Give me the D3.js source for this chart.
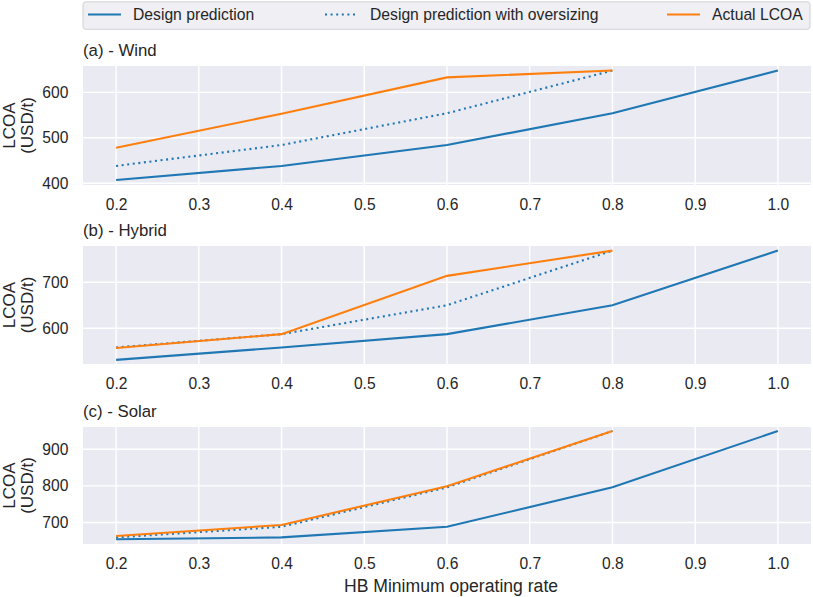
<!DOCTYPE html>
<html><head><meta charset="utf-8">
<script src="https://cdn.jsdelivr.net/npm/d3@7"></script>
<style>
html,body{margin:0;padding:0;background:#fff;}
svg{display:block;font-family:"Liberation Sans",Arial,Helvetica,sans-serif;}
</style></head>
<body><svg id="chart" width="813" height="597"></svg>
<script>
const xValues = [0.2, 0.4, 0.6, 0.8, 1.0];
const xOversize = [0.2, 0.4, 0.6, 0.8];
const xTicks = [0.2, 0.3, 0.4, 0.5, 0.6, 0.7, 0.8, 0.9, 1.0];

const panelTitles = ["(a) - Wind", "(b) - Hybrid", "(c) - Solar"];
const windDesign = [407, 438, 484, 554, 648];
const windOversize = [438, 484, 554, 648];
const windActual = [478, 553, 633, 648];
const hybridDesign = [531, 558, 587, 650, 769];
const hybridOversize = [558, 587, 650, 769];
const hybridActual = [557, 587, 714, 769];
const solarDesign = [654, 659, 688, 796, 950];
const solarOversize = [659, 688, 796, 950];
const solarActual = [663, 693, 799, 950];
const yTicksWind = [400, 500, 600];
const yTicksHybrid = [600, 700];
const yTicksSolar = [700, 800, 900];
const legendLabels = ["Design prediction", "Design prediction with oversizing", "Actual LCOA"];

const BLUE = "#1f77b4", ORANGE = "#ff7f0e", TXT = "#262626";
const DOT = "2,3.6";
const svg = d3.select("#chart");
const left = 83, right = 811;
const x = d3.scaleLinear().domain([0.16, 1.04]).range([left, right]);

const panels = [
  {title: panelTitles[0], design: windDesign, over: windOversize, actual: windActual, ticks: yTicksWind, dom: [396, 658], top: 66, bottom: 185},
  {title: panelTitles[1], design: hybridDesign, over: hybridOversize, actual: hybridActual, ticks: yTicksHybrid, dom: [522, 779], top: 246, bottom: 364},
  {title: panelTitles[2], design: solarDesign, over: solarOversize, actual: solarActual, ticks: yTicksSolar, dom: [641, 961], top: 427, bottom: 544}
];

panels.forEach((p, i) => {
  const y = d3.scaleLinear().domain(p.dom).range([p.bottom, p.top]);
  const g = svg.append("g");
  g.append("rect").attr("x", left).attr("y", p.top).attr("width", right - left).attr("height", p.bottom - p.top).attr("fill", "#eaeaf2");
  g.selectAll(".vg").data(xTicks).enter().append("line")
    .attr("x1", d => x(d)).attr("x2", d => x(d)).attr("y1", p.top).attr("y2", p.bottom)
    .attr("stroke", "#fff").attr("stroke-width", 1.4);
  g.selectAll(".hg").data(p.ticks).enter().append("line")
    .attr("x1", left).attr("x2", right).attr("y1", d => y(d)).attr("y2", d => y(d))
    .attr("stroke", "#fff").attr("stroke-width", 1.4);
  const xa = g.append("g").attr("transform", `translate(0,${p.bottom})`)
    .call(d3.axisBottom(x).tickValues(xTicks).tickFormat(d3.format(".1f")).tickSize(0).tickPadding(14.3));
  xa.select(".domain").remove();
  xa.selectAll("text").attr("fill", TXT).attr("font-size", 15.6).attr("font-family", "Liberation Sans, Arial, sans-serif");
  const ya = g.append("g").attr("transform", `translate(${left},0)`)
    .call(d3.axisLeft(y).tickValues(p.ticks).tickFormat(d3.format("d")).tickSize(0).tickPadding(14.7));
  ya.select(".domain").remove();
  ya.selectAll("text").attr("fill", TXT).attr("font-size", 15.6).attr("font-family", "Liberation Sans, Arial, sans-serif");
  g.append("text").attr("x", left).attr("y", p.top - 10).attr("fill", TXT).attr("font-size", 16.8).text(p.title);
  const cy = (p.top + p.bottom) / 2;
  const yl = g.append("text").attr("transform", `translate(15,${cy}) rotate(-90)`).attr("text-anchor", "middle")
    .attr("fill", TXT).attr("font-size", 17);
  yl.append("tspan").attr("x", 0).attr("dy", 0).text("LCOA");
  yl.append("tspan").attr("x", 0).attr("dy", 17.5).text("(USD/t)");
  const line = (xs) => d3.line().x((d, j) => x(xs[j])).y(d => y(d));
  g.append("path").datum(p.design).attr("d", line(xValues)).attr("fill", "none").attr("stroke", BLUE).attr("stroke-width", 2.1);
  g.append("path").datum(p.over).attr("d", line(xOversize)).attr("fill", "none").attr("stroke", BLUE).attr("stroke-width", 2.1).attr("stroke-dasharray", DOT);
  g.append("path").datum(p.actual).attr("d", line(xOversize)).attr("fill", "none").attr("stroke", ORANGE).attr("stroke-width", 2.1);
});

svg.append("text").attr("x", 451).attr("y", 592).attr("text-anchor", "middle")
  .attr("fill", TXT).attr("font-size", 17.6).text("HB Minimum operating rate");

const lg = svg.append("g");
lg.append("rect").attr("x", 83).attr("y", 1.8).attr("width", 727).attr("height", 27.5).attr("rx", 3)
  .attr("fill", "#efeff4").attr("stroke", "#d0d0d6").attr("stroke-width", 1);
const legendItems = [
  {label: legendLabels[0], color: BLUE, dash: null, x0: 88},
  {label: legendLabels[1], color: BLUE, dash: DOT, x0: 325},
  {label: legendLabels[2], color: ORANGE, dash: null, x0: 667}
];
legendItems.forEach(it => {
  lg.append("line").attr("x1", it.x0).attr("x2", it.x0 + 33).attr("y1", 14.5).attr("y2", 14.5)
    .attr("stroke", it.color).attr("stroke-width", 2.1).attr("stroke-dasharray", it.dash);
  lg.append("text").attr("x", it.x0 + 45).attr("y", 19.5).attr("fill", TXT).attr("font-size", 15.7).text(it.label);
});
</script></body></html>
